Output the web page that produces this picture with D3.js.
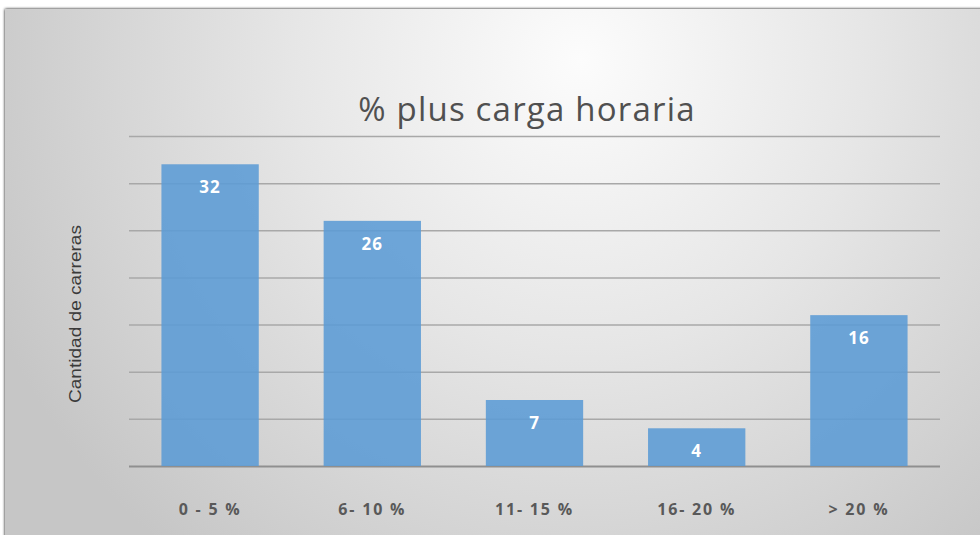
<!DOCTYPE html>
<html>
<head>
<meta charset="utf-8">
<script src="https://cdn.jsdelivr.net/npm/d3@7"></script>
<style>
  body { margin: 0; background: #fff; }
  svg { display: block; }
</style>
</head>
<body>
<svg id="chart" width="980" height="535"></svg>
<script>
var categories = ["0 - 5 %", "6- 10 %", "11- 15 %", "16- 20 %", "> 20 %"];
var values = [32, 26, 7, 4, 16];
var yTicks = [0, 5, 10, 15, 20, 25, 30, 35];

var svg = d3.select("#chart"),
    plotLeft = 129,
    plotRight = 940,
    plotTop = 136,
    plotBottom = 466;

// panel background, light in the upper middle and grey to the edges
var defs = svg.append("defs");
var grad = defs.append("radialGradient")
    .attr("id", "bg")
    .attr("gradientUnits", "userSpaceOnUse")
    .attr("cx", 580).attr("cy", 60)
    .attr("r", 640);
grad.append("stop").attr("offset", "0%").attr("stop-color", "#fcfcfc");
grad.append("stop").attr("offset", "45%").attr("stop-color", "#e6e6e6");
grad.append("stop").attr("offset", "100%").attr("stop-color", "#c6c6c6");

var shadow = defs.append("filter").attr("id", "shadow")
    .attr("x", "-5%").attr("y", "-5%").attr("width", "110%").attr("height", "110%");
shadow.append("feGaussianBlur").attr("in", "SourceAlpha").attr("stdDeviation", 1.5).attr("result", "b");
var merge = shadow.append("feMerge");
merge.append("feMergeNode").attr("in", "b");
merge.append("feMergeNode").attr("in", "SourceGraphic");

svg.append("rect")
    .attr("x", 5).attr("y", 9)
    .attr("width", 985).attr("height", 540)
    .attr("fill", "url(#bg)")
    .attr("filter", "url(#shadow)");

var xScale = d3.scaleBand()
    .domain(categories)
    .range([plotLeft, plotRight])
    .paddingInner(0.4)
    .paddingOuter(0.2);

var yScale = d3.scaleLinear()
    .domain([0, 35])
    .range([plotBottom, plotTop]);

// gridlines
svg.append("g")
    .attr("transform", "translate(" + plotLeft + ",0)")
    .call(d3.axisLeft(yScale).tickValues(yTicks).tickSize(-(plotRight - plotLeft)).tickFormat(""))
    .call(function(g) { g.select(".domain").remove(); })
    .call(function(g) {
        g.selectAll(".tick line")
            .attr("stroke", function(d) { return d === 0 ? "#8f8f8f" : "#a8a8a8"; })
            .attr("stroke-width", function(d) { return d === 0 ? 2 : 1.5; });
    });

var data = categories.map(function(c, i) { return {cat: c, value: values[i]}; });

svg.selectAll(".bar")
    .data(data)
    .enter().append("rect")
    .attr("class", "bar")
    .attr("x", function(d) { return xScale(d.cat); })
    .attr("y", function(d) { return yScale(d.value); })
    .attr("width", xScale.bandwidth())
    .attr("height", function(d) { return plotBottom - yScale(d.value); })
    .attr("fill", "#5b9bd5")
    .attr("fill-opacity", 0.88);

svg.selectAll(".val")
    .data(data)
    .enter().append("text")
    .attr("class", "val")
    .attr("x", function(d) { return xScale(d.cat) + xScale.bandwidth() / 2; })
    .attr("y", function(d) { return yScale(d.value) + 29; })
    .attr("text-anchor", "middle")
    .attr("font-family", "'Open Sans', 'DejaVu Sans', sans-serif")
    .attr("font-weight", "bold")
    .attr("font-size", 17)
    .attr("letter-spacing", 1)
    .attr("fill", "#ffffff")
    .text(function(d) { return d.value; });

// category labels
svg.append("g")
    .attr("transform", "translate(0," + plotBottom + ")")
    .call(d3.axisBottom(xScale).tickSize(0).tickPadding(0))
    .call(function(g) { g.select(".domain").remove(); })
    .call(function(g) {
        g.selectAll("text")
            .attr("y", 49)
            .attr("dy", 0)
            .attr("font-family", "'Open Sans', 'DejaVu Sans', sans-serif")
            .attr("font-weight", "bold")
            .attr("font-size", 16)
            .attr("letter-spacing", 1.8)
            .attr("fill", "#595959");
    });

svg.append("text")
    .attr("x", 527)
    .attr("y", 121)
    .attr("text-anchor", "middle")
    .attr("font-family", "'Open Sans', 'Noto Sans', sans-serif")
    .attr("font-size", 33)
    .attr("letter-spacing", 1.2)
    .attr("fill", "#505050")
    .text("% plus carga horaria");

svg.append("text")
    .attr("transform", "translate(81,314) rotate(-90)")
    .attr("text-anchor", "middle")
    .attr("font-family", "'Liberation Sans', Arial, sans-serif")
    .attr("font-size", 17)
    .attr("textLength", 178)
    .attr("lengthAdjust", "spacingAndGlyphs")
    .attr("fill", "#3a3a3a")
    .text("Cantidad de carreras");
</script>
</body>
</html>
